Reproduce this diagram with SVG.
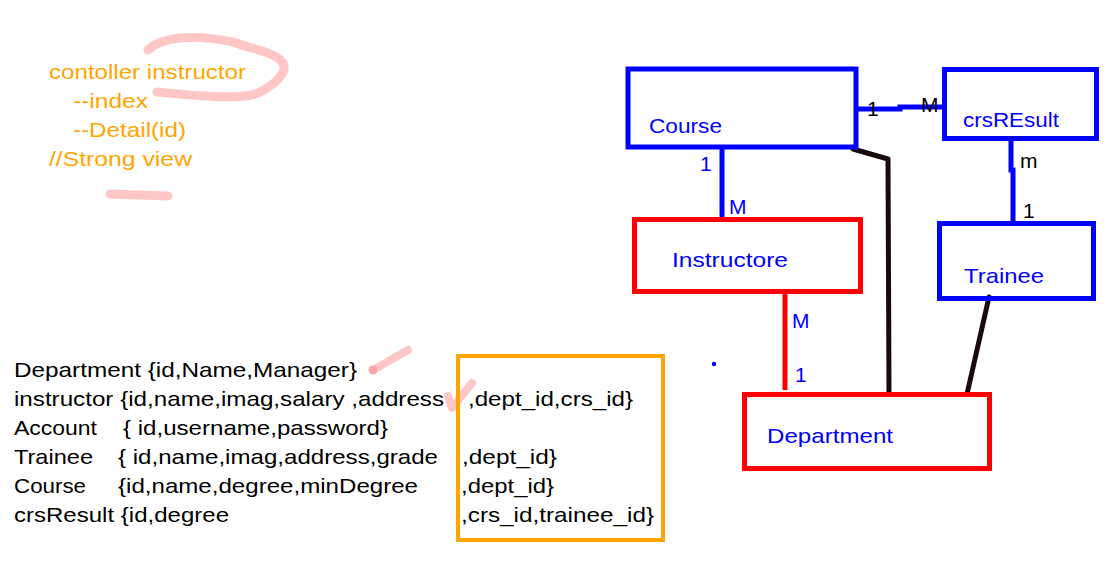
<svg xmlns="http://www.w3.org/2000/svg" width="1111" height="577" viewBox="0 0 1111 577">
<style>
text{font-family:"Liberation Sans",Arial,sans-serif;font-size:21px}
.o{fill:#FFA500}
.k{fill:#000}
.b{fill:#0000FF}
.t{fill:#000}
.blue{fill:none;stroke:#0000FF;stroke-width:5}
.red{fill:none;stroke:#FF0000;stroke-width:5}
.pink{fill:none;stroke:#FFC6C6;stroke-width:9;stroke-linecap:round;stroke-linejoin:round}
.dark{fill:none;stroke:#1a0a0a;stroke-width:5;stroke-linecap:round;stroke-linejoin:round}
</style>
<rect width="1111" height="577" fill="#fff"/>
<g id="notes">
<path class="pink" d="M148,50 C160,38 190,33 233,42 C255,50 275,52 283,63 C288,72 275,85 258,93 C240,100 200,96 157,92"/>
<path class="pink" d="M110,194 L168,196"/>
<text class="o" x="49" y="79" textLength="197" lengthAdjust="spacingAndGlyphs">contoller instructor</text>
<text class="o" x="73" y="108" textLength="75" lengthAdjust="spacingAndGlyphs">--index</text>
<text class="o" x="73" y="137" textLength="113" lengthAdjust="spacingAndGlyphs">--Detail(id)</text>
<text class="o" x="49" y="166" textLength="143" lengthAdjust="spacingAndGlyphs">//Strong view</text>
</g>
<g id="schema">
<path class="pink" d="M373,370 L408,350" style="stroke-width:8"/>
<circle cx="373" cy="370" r="4.5" fill="#FFA5A5"/>
<path class="pink" d="M448,396 L452,408 L472,383" style="stroke-width:8"/>
<rect x="458" y="356" width="205" height="184" fill="none" stroke="#FFA500" stroke-width="4"/>
<text class="t" x="14" y="377" textLength="343" lengthAdjust="spacingAndGlyphs">Department {id,Name,Manager}</text>
<text class="t" x="14" y="406" textLength="430" lengthAdjust="spacingAndGlyphs">instructor {id,name,imag,salary ,address</text>
<text class="t" x="468" y="406" textLength="165" lengthAdjust="spacingAndGlyphs">,dept_id,crs_id}</text>
<text class="t" x="14" y="435" textLength="83" lengthAdjust="spacingAndGlyphs">Account</text>
<text class="t" x="123" y="435" textLength="265" lengthAdjust="spacingAndGlyphs">{ id,username,password}</text>
<text class="t" x="14" y="464" textLength="79" lengthAdjust="spacingAndGlyphs">Trainee</text>
<text class="t" x="118" y="464" textLength="320" lengthAdjust="spacingAndGlyphs">{ id,name,imag,address,grade</text>
<text class="t" x="462" y="464" textLength="95" lengthAdjust="spacingAndGlyphs">,dept_id}</text>
<text class="t" x="14" y="493" textLength="72" lengthAdjust="spacingAndGlyphs">Course</text>
<text class="t" x="118" y="493" textLength="300" lengthAdjust="spacingAndGlyphs">{id,name,degree,minDegree</text>
<text class="t" x="461" y="493" textLength="93" lengthAdjust="spacingAndGlyphs">,dept_id}</text>
<text class="t" x="14" y="522" textLength="215" lengthAdjust="spacingAndGlyphs">crsResult {id,degree</text>
<text class="t" x="461" y="522" textLength="193" lengthAdjust="spacingAndGlyphs">,crs_id,trainee_id}</text>
</g>
<g id="connectors">
<path class="blue" d="M858,109 L900,109 L900,107 L942,107"/>
<path class="blue" d="M722,149 L722,216" stroke-linecap="round"/>
<path class="blue" d="M1011,141 L1011,170 L1013,170 L1013,221"/>
<path class="red" d="M785,294 L785,390"/>
<path class="dark" d="M853,149 L888,159 L889,392"/>
<path class="dark" d="M989,297 L967,394"/>
<circle cx="714" cy="364" r="2.2" fill="#0000FF"/>
<text class="k" x="867" y="116" font-size="20">1</text>
<text class="k" x="921" y="112" font-size="20">M</text>
<text class="b" x="700" y="171" font-size="20">1</text>
<text class="b" x="729" y="214" font-size="20">M</text>
<text class="k" x="1020" y="168" font-size="20">m</text>
<text class="k" x="1023" y="218" font-size="20">1</text>
<text class="b" x="792" y="328" font-size="20">M</text>
<text class="b" x="795" y="382" font-size="20">1</text>
</g>
<g id="course">
<rect class="blue" x="628" y="69" width="228" height="78"/>
<text class="b" x="649" y="133" textLength="73" lengthAdjust="spacingAndGlyphs">Course</text>
</g>
<g id="crsresult">
<rect class="blue" x="944.5" y="69.5" width="152" height="69"/>
<text class="b" x="963" y="127" textLength="96" lengthAdjust="spacingAndGlyphs">crsREsult</text>
</g>
<g id="instructore">
<rect class="red" x="634.5" y="219.5" width="226" height="72"/>
<text class="b" x="672" y="267" textLength="116" lengthAdjust="spacingAndGlyphs">Instructore</text>
</g>
<g id="trainee">
<rect class="blue" x="939.5" y="223.5" width="154" height="75"/>
<text class="b" x="964" y="283" textLength="80" lengthAdjust="spacingAndGlyphs">Trainee</text>
</g>
<g id="department">
<rect class="red" x="744.5" y="394.5" width="245" height="74"/>
<text class="b" x="767" y="443" textLength="126" lengthAdjust="spacingAndGlyphs">Department</text>
</g>
</svg>
